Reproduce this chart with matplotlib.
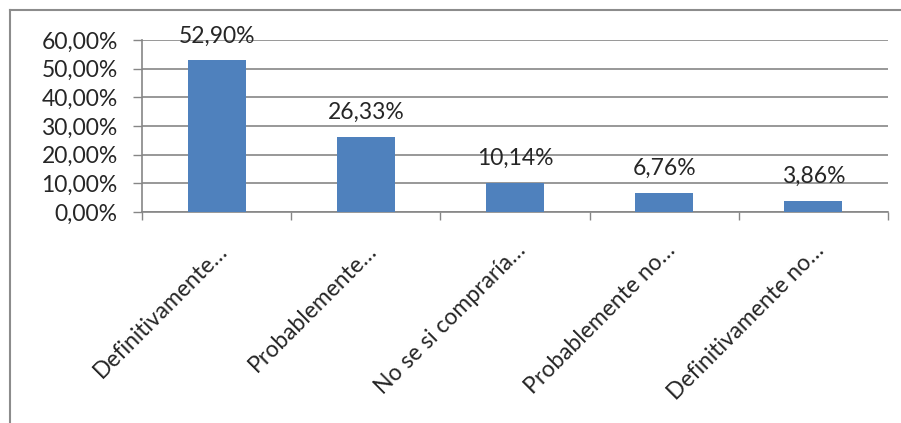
import matplotlib.pyplot as plt
from matplotlib.lines import Line2D
from matplotlib.transforms import ScaledTranslation
import numpy as np

categorias = ['Definitivamente…', 'Probablemente…', 'No se si compraría…',
              'Probablemente no…', 'Definitivamente no…']
valores = [52.90, 26.33, 10.14, 6.76, 3.86]
etiquetas = ['52,90%', '26,33%', '10,14%', '6,76%', '3,86%']
yticks = [0, 10, 20, 30, 40, 50, 60]
ytick_labels = ['0,00%', '10,00%', '20,00%', '30,00%', '40,00%', '50,00%', '60,00%']

plt.rcParams['font.family'] = ['Lato', 'DejaVu Sans']
txt = '#262626'
gris = '#868686'
fs = 16.5

fig = plt.figure(figsize=(9.01, 4.23), dpi=100)
ax = fig.add_axes([142/901, 1 - 212/423, (888 - 142)/901, (212 - 40)/423])

x = np.arange(len(valores))
ax.bar(x, valores, width=0.39, color='#4F81BD', zorder=3)
for xi, v, lab in zip(x, valores, etiquetas):
    ax.annotate(lab, (xi, v), xytext=(0, 10), textcoords='offset points',
                ha='center', va='bottom', fontsize=fs, color=txt)

ax.set_xlim(-0.5, len(valores) - 0.5)
ax.set_ylim(0, 60)
ax.set_yticks(yticks)
ax.set_yticklabels(ytick_labels, fontsize=fs, color=txt)
ax.yaxis.grid(True, color=gris, linewidth=1.2, zorder=0)
ax.tick_params(axis='y', length=6.5, width=1, color=gris, pad=11)

ax.set_xticks(x)
ax.set_xticklabels(categorias, rotation=45, ha='right', rotation_mode='anchor',
                   fontsize=fs, color=txt)
desplaza = ScaledTranslation(16/100, 0, fig.dpi_scale_trans)
for t in ax.get_xticklabels():
    t.set_transform(t.get_transform() + desplaza)
ax.set_xticks(np.arange(len(valores) + 1) - 0.5, minor=True)
ax.tick_params(axis='x', which='major', length=0, pad=20)
ax.tick_params(axis='x', which='minor', length=6, width=1, color=gris)

for s in ['top', 'right']:
    ax.spines[s].set_visible(False)
for s in ['left', 'bottom']:
    ax.spines[s].set_color(gris)
    ax.spines[s].set_linewidth(1.2)

# marco exterior
fig.add_artist(Line2D([10/901, 10/901], [0, 1 - 10/423], color='#8c8c8c', linewidth=1.5))
fig.add_artist(Line2D([10/901, 1], [1 - 10/423, 1 - 10/423], color='#8c8c8c', linewidth=1.5))

fig.savefig('out.png', dpi=100, facecolor='white')
